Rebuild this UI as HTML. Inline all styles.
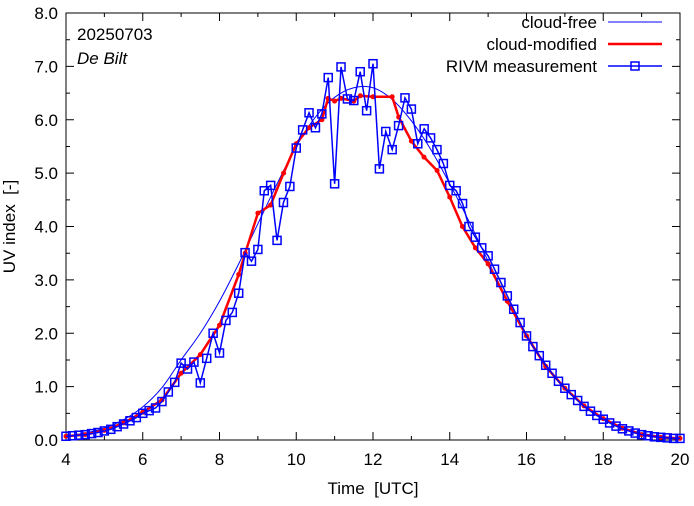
<!DOCTYPE html>
<html><head><meta charset="utf-8"><style>
body{margin:0;background:#fff}
svg text{font-family:"Liberation Sans",sans-serif;font-size:17px;fill:#000;white-space:pre}
</style></head><body>
<svg id="chart" width="694" height="501" xmlns="http://www.w3.org/2000/svg"></svg>
<script>
const xTicks=[4,6,8,10,12,14,16,18,20];
const yTicks=[0,1,2,3,4,5,6,7,8];
const cfTimes=[4,4.5,5,5.5,6,6.5,7,7.5,8,8.5,9,9.5,10,10.5,11,11.5,12,12.5,13,13.5,14,14.5,15,15.5,16,16.5,17,17.5,18,18.5,19,19.5,20];
const cfVals=[0.08,0.13,0.22,0.38,0.62,0.98,1.5,2.0,2.6,3.3,4.05,4.8,5.5,6.05,6.42,6.6,6.6,6.38,5.98,5.45,4.8,4.1,3.35,2.62,1.98,1.42,0.98,0.65,0.4,0.24,0.13,0.07,0.04];
const cmTimes=[4,4.5,5,5.5,6,6.5,7,7.5,8,8.5,8.67,9,9.33,9.67,10,10.33,10.67,10.83,11,11.17,11.5,11.67,12,12.5,12.67,13,13.33,13.67,14,14.33,14.67,15,15.5,16,16.5,17,17.5,18,18.5,19,19.5,20];
const cmVals=[0.07,0.1,0.18,0.32,0.52,0.75,1.25,1.6,2.15,3.1,3.5,4.25,4.4,5.0,5.55,5.85,6.0,6.4,6.35,6.4,6.35,6.45,6.43,6.43,6.05,5.6,5.3,5.05,4.55,4.0,3.6,3.3,2.6,1.95,1.38,0.97,0.64,0.4,0.22,0.1,0.05,0.03];
const measStart=4, measStep=1/6;
const measVals=[0.07,0.08,0.09,0.1,0.12,0.14,0.17,0.2,0.25,0.3,0.36,0.42,0.5,0.55,0.6,0.72,0.9,1.08,
1.44,1.33,1.46,1.07,1.53,2.0,1.63,2.24,2.39,2.75,3.51,3.35,3.57,4.67,4.77,3.74,4.45,4.75,5.47,5.81,6.13,5.85,6.11,6.79,4.80,6.99,6.39,6.36,6.90,6.17,7.05,5.08,5.78,5.44,5.89,6.41,6.2,5.55,5.83,5.66,5.44,5.18,4.77,4.67,4.43,
4.0,3.8,3.6,3.45,3.2,2.95,2.7,2.45,2.2,1.95,1.75,1.58,1.4,1.25,1.1,0.97,0.85,0.74,0.63,0.54,0.46,0.39,0.32,0.26,0.21,0.17,0.13,0.1,0.08,0.06,0.05,0.04,0.03,0.03];
const L=66,R=680,T=13,B=440;
const X=t=>L+(t-4)/16*(R-L), Y=v=>B-v/8*(B-T);
const svg=document.getElementById('chart');
const NS='http://www.w3.org/2000/svg';
function mk(tag,attrs,parent){const e=document.createElementNS(NS,tag);for(const k in attrs)e.setAttribute(k,attrs[k]);(parent||svg).appendChild(e);return e;}
function smooth(pts){let d=`M${pts[0][0]},${pts[0][1]}`;for(let i=0;i<pts.length-1;i++){const p0=pts[Math.max(0,i-1)],p1=pts[i],p2=pts[i+1],p3=pts[Math.min(pts.length-1,i+2)];
d+=`C${p1[0]+(p2[0]-p0[0])/6},${p1[1]+(p2[1]-p0[1])/6} ${p2[0]-(p3[0]-p1[0])/6},${p2[1]-(p3[1]-p1[1])/6} ${p2[0]},${p2[1]}`;}return d;}
xTicks.forEach(t=>{
  const x=X(t);
  const tk=mk('path',{d:`M${x},${B}v-8M${x},${T}v8`,stroke:'#000','stroke-width':1});
  
  
  const tx=mk('text',{x:x,y:B+25,'text-anchor':'middle'});tx.textContent=t;
  
  
});
for(let t=5;t<20;t+=2){const x=X(t);const m=mk('path',{d:`M${x},${B}v-4M${x},${T}v4`,stroke:'#000'});
  
  }
yTicks.forEach(v=>{
  const y=Y(v);
  const tk=mk('path',{d:`M${L},${y}h8M${R},${y}h-8`,stroke:'#000'});
  
  
  const tx=mk('text',{x:L-8,y:y+6,'text-anchor':'end'});tx.textContent=v.toFixed(1);
  
  
});
for(let v=0.5;v<8;v+=1){const y=Y(v);const m=mk('path',{d:`M${L},${y}h4M${R},${y}h-4`,stroke:'#000'});
  
  }
const fr=mk('rect',{x:L,y:T,width:R-L,height:B-T,fill:'none',stroke:'#000','stroke-width':1});


const cf=mk('path',{d:smooth(cfTimes.map((t,i)=>[X(t),Y(cfVals[i])])),fill:'none',stroke:'#0000ff','stroke-width':1});


const cm=mk('polyline',{points:cmTimes.map((t,i)=>X(t)+','+Y(cmVals[i])).join(' '),fill:'none',stroke:'#ff0000','stroke-width':2.5});


cmTimes.forEach((t,i)=>{const d=mk('circle',{cx:X(t),cy:Y(cmVals[i]),r:2.5,fill:'#ff0000'});
  
  });
const mp=measVals.map((v,i)=>X(measStart+i*measStep)+','+Y(v)).join(' ');
const ml=mk('polyline',{points:mp,fill:'none',stroke:'#0000ff','stroke-width':1.5});


measVals.forEach((v,i)=>{const s=mk('rect',{x:X(measStart+i*measStep)-4,y:Y(v)-4,width:8,height:8,fill:'none',stroke:'#0000ff','stroke-width':1.5});
  
  });
let t1=mk('text',{x:(L+R)/2,y:494,'text-anchor':'middle'});t1.textContent='Time  [UTC]';

let t2=mk('text',{x:0,y:0,'text-anchor':'middle',transform:`translate(15,${(T+B)/2}) rotate(-90)`});t2.textContent='UV index  [-]';

let t3=mk('text',{x:77,y:40});t3.textContent='20250703';

let t4=mk('text',{x:77,y:64,'font-style':'italic'});t4.textContent='De Bilt';

const lg=[['cloud-free','#0000ff',1,false],['cloud-modified','#ff0000',2.5,false],['RIVM measurement','#0000ff',1.5,true]];
lg.forEach((e,i)=>{const y=22+i*22;
  const g=mk('g',{});
  
  
  const tx=mk('text',{x:597,y:y+6,'text-anchor':'end'},g);tx.textContent=e[0];
  mk('line',{x1:608,x2:662,y1:y,y2:y,stroke:e[1],'stroke-width':e[2]},g);
  if(e[3])mk('rect',{x:631,y:y-4,width:8,height:8,fill:'none',stroke:e[1],'stroke-width':1.5},g);
});
</script>
</body></html>
